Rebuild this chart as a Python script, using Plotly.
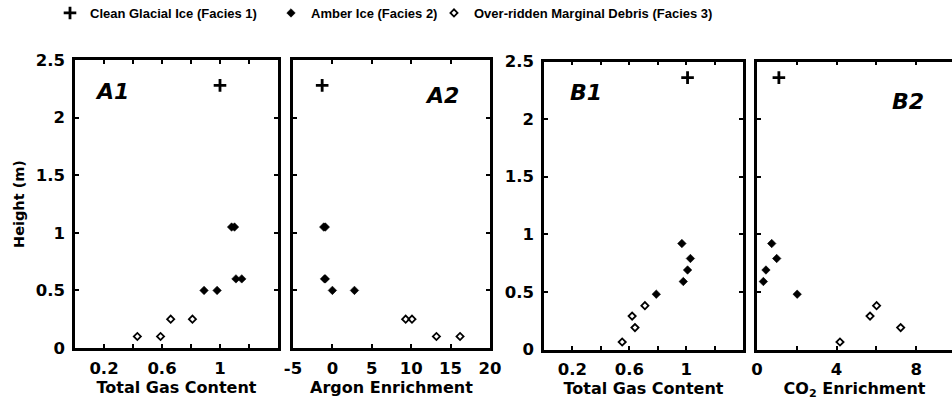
import plotly.graph_objects as go

# ---- data -------------------------------------------------------------
# Site A: heights (m) and measurements per facies
a_clean_height = [2.28]
a_clean_gas = [1.00]
a_clean_argon = [-1.3]

a_amber_height = [1.05, 1.05, 0.60, 0.60, 0.50, 0.50]
a_amber_gas = [1.08, 1.10, 1.11, 1.15, 0.89, 0.98]
a_amber_argon = [-1.1, -0.9, -1.0, -0.9, 0.0, 2.8]

a_debris_height = [0.25, 0.25, 0.10, 0.10]
a_debris_gas = [0.66, 0.81, 0.43, 0.59]
a_debris_argon = [9.3, 10.1, 13.2, 16.2]

# Site B
b_clean_height = [2.36]
b_clean_gas = [1.01]
b_clean_co2 = [1.1]

b_amber_height = [0.92, 0.79, 0.69, 0.59, 0.48]
b_amber_gas = [0.97, 1.03, 1.01, 0.98, 0.79]
b_amber_co2 = [0.74, 0.99, 0.45, 0.32, 2.02]

b_debris_height = [0.38, 0.29, 0.19, 0.065]
b_debris_gas = [0.71, 0.62, 0.64, 0.55]
b_debris_co2 = [6.01, 5.68, 7.22, 4.17]

# ---- ticks ----------------------------------------------------------------
gas_tickvals = [0.2, 0.6, 1.0]
gas_ticktext = ["0.2", "0.6", "1"]
gas_minor = [0.4, 0.8, 1.2]
argon_tickvals = [-5, 0, 5, 10, 15, 20]
argon_ticktext = ["-5", "0", "5", "10", "15", "20"]
co2_tickvals = [0, 4, 8]
co2_ticktext = ["0", "4", "8"]
co2_minor = [2, 6]
height_tickvals = [0, 0.5, 1, 1.5, 2, 2.5]
height_ticktext = ["0", "0.5", "1", "1.5", "2", "2.5"]

facies_names = ["Clean Glacial Ice (Facies 1)", "Amber Ice (Facies 2)",
                "Over-ridden Marginal Debris (Facies 3)"]
panel_labels = ["A1", "A2", "B1", "B2"]

FONT = "DejaVu Sans"
LEG_FONT = "Liberation Sans"
W, H = 952, 404

fig = go.Figure()

styles = [
    dict(symbol="cross-thin", size=9, color="black", line=dict(width=2.8, color="black")),
    dict(symbol="diamond", size=6.5, color="black", line=dict(width=0.6, color="black")),
    dict(symbol="diamond-open", size=5.5, color="black", line=dict(width=1.8, color="black")),
]
legend_ids = ["legend", "legend2", "legend3"]

panels = [
    ("x", "y", [(a_clean_gas, a_clean_height), (a_amber_gas, a_amber_height), (a_debris_gas, a_debris_height)]),
    ("x2", "y2", [(a_clean_argon, a_clean_height), (a_amber_argon, a_amber_height), (a_debris_argon, a_debris_height)]),
    ("x3", "y3", [(b_clean_gas, b_clean_height), (b_amber_gas, b_amber_height), (b_debris_gas, b_debris_height)]),
    ("x4", "y4", [(b_clean_co2, b_clean_height), (b_amber_co2, b_amber_height), (b_debris_co2, b_debris_height)]),
]

for p, (xa, ya, series) in enumerate(panels):
    for k, (xs, ys) in enumerate(series):
        fig.add_trace(go.Scatter(
            x=xs, y=ys, mode="markers", xaxis=xa, yaxis=ya,
            marker=styles[k], name=facies_names[k],
            legend=legend_ids[k], legendgroup=facies_names[k], showlegend=(p == 0),
            cliponaxis=False,
        ))

tickfont = dict(family=FONT, size=16.5, color="black", weight="bold")
xtitlefont = dict(family=FONT, size=16, color="black", weight="bold")
ytitlefont = dict(family=FONT, size=14.5, color="black", weight="bold")
AX = dict(ticks="inside", ticklen=4, tickwidth=2, tickcolor="black",
          showline=True, linewidth=2.5, linecolor="black",
          showgrid=False, zeroline=False, tickfont=tickfont, fixedrange=True,
          automargin=False)


def xaxis(domain, rng, tv, tt, title, anchor, minor=None):
    ax = dict(AX, domain=domain, range=rng, anchor=anchor, tickvals=tv, ticktext=tt,
              mirror="ticks", ticklabelstandoff=3,
              title=dict(text=title, font=xtitlefont, standoff=0))
    if minor:
        ax["minor"] = dict(tickvals=minor, ticks="inside", ticklen=4, tickwidth=2, tickcolor="black")
    return ax


def yaxis(domain, anchor, labels=True, mirror=True):
    ax = dict(AX, domain=domain, range=[0, 2.5], anchor=anchor, tickvals=height_tickvals,
              showticklabels=labels, mirror="ticks" if mirror else False)
    if labels:
        ax.update(ticktext=height_ticktext, ticklabelstandoff=4)
    return ax


ya_dom = [1 - 348 / H, 1 - 60 / H]
yb_dom = [1 - 349.5 / H, 1 - 61.5 / H]

leg_common = dict(orientation="h", xanchor="left", y=1 + 2 / H, yanchor="top",
                  font=dict(family=LEG_FONT, size=13, color="black", weight="bold"),
                  bgcolor="rgba(0,0,0,0)", itemclick=False, itemdoubleclick=False)

fig.update_layout(
    width=W, height=H,
    margin=dict(l=0, r=0, t=0, b=0, autoexpand=False),
    paper_bgcolor="white", plot_bgcolor="white",
    font=dict(family=FONT, color="black"),
    xaxis=xaxis([75 / W, 278 / W], [0, 1.4], gas_tickvals, gas_ticktext, "Total Gas Content", "y", gas_minor),
    xaxis2=xaxis([293 / W, 490 / W], [-5, 20], argon_tickvals, argon_ticktext, "Argon Enrichment", "y2"),
    xaxis3=xaxis([544 / W, 743 / W], [0, 1.4], gas_tickvals, gas_ticktext, "Total Gas Content", "y3", gas_minor),
    xaxis4=xaxis([757 / W, 1.0], [0, 9.8], co2_tickvals, co2_ticktext, "CO<sub>2</sub> Enrichment", "y4", co2_minor),
    yaxis=dict(yaxis(ya_dom, "x"), title=dict(text="Height (m)", font=ytitlefont, standoff=8)),
    yaxis2=yaxis(ya_dom, "x2", labels=False),
    yaxis3=yaxis(yb_dom, "x3"),
    yaxis4=yaxis(yb_dom, "x4", labels=False, mirror=False),
    legend=dict(leg_common, x=50 / W),
    legend2=dict(leg_common, x=271 / W),
    legend3=dict(leg_common, x=434 / W),
    showlegend=True,
)

label_pos = [("x domain", "y domain", 0.18, 0.89),
             ("x2 domain", "y2 domain", 0.756, 0.878),
             ("x3 domain", "y3 domain", 0.21, 0.894),
             ("x4 domain", "y4 domain", 0.774, 0.86)]
for text, (xr, yr, xx, yy) in zip(panel_labels, label_pos):
    fig.add_annotation(text=text, xref=xr, yref=yr, x=xx, y=yy, showarrow=False,
                       xanchor="center", yanchor="middle",
                       font=dict(family=FONT, size=22, color="black", weight="bold", style="italic"))

fig.write_html("out.html")
